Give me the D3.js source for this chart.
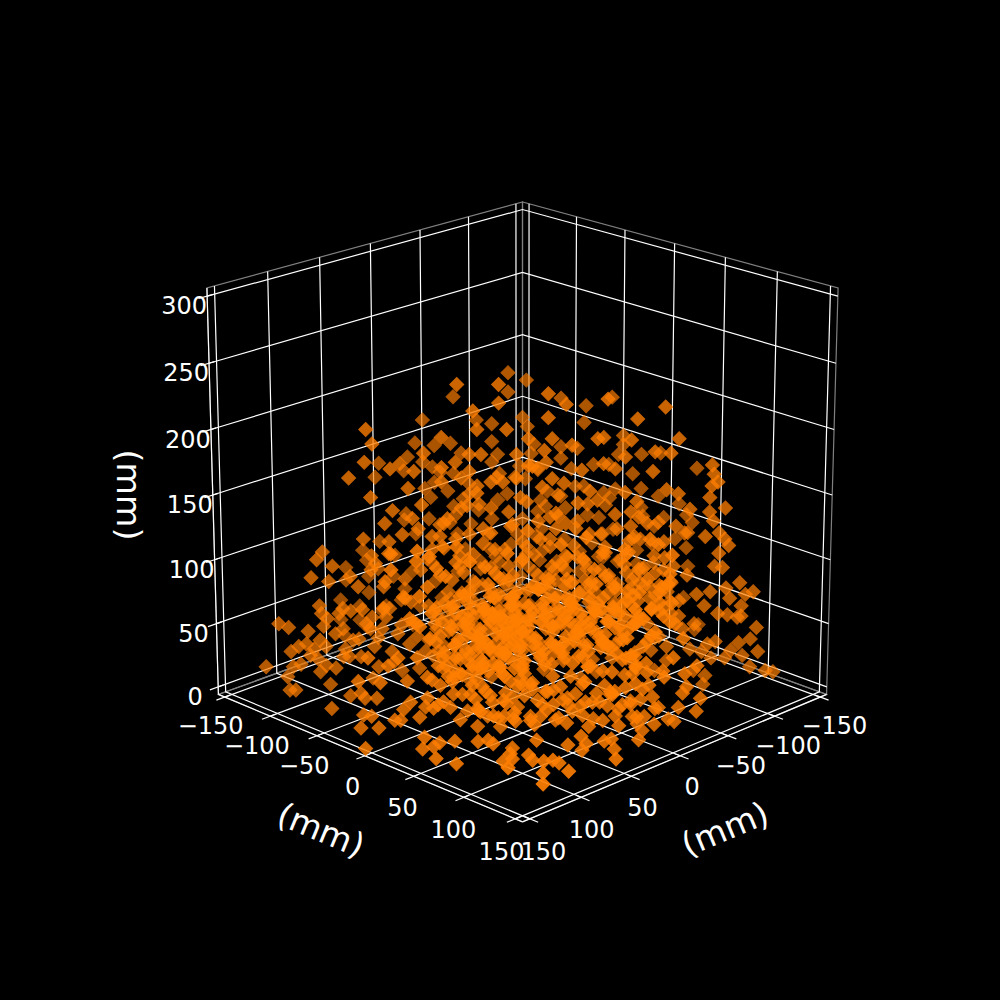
<!doctype html>
<html lang="en">
  <head>
    <meta charset="utf-8">
    <script src="https://cdn.jsdelivr.net/npm/d3@7"></script>
    <style>
      body { margin:0; background:black; font-family:"DejaVu Sans", sans-serif }
      svg { display:block }
      text { fill:white }
    </style>
    <title>3D scatter (mm)</title>
  </head>
  <body>
    <script>
      // x, y, z in mm
      const upperLeft = [[-67,-52,215],[-12,12,234],[-67,-52,200],[-33,33,234],[-96,-24,196],[-12,12,220],[-112,-8,178],[-79,79,200],[-76,76,189],[-116,-4,160],[-41,41,194],[-97,-22,160],[-25,25,214],[-84,-36,178],[-23,23,200],[-76,-44,175],[-8,8,200],[-76,-44,161],[-92,-28,152],[-27,27,181],[-21,21,181],[-73,-47,151],[-76,-44,145],[-80,80,175],[-135,15,144],[-67,67,170],[-120,0,149],[-62,62,174],[-122,2,138],[-55,55,168],[-112,-8,145],[-50,50,182],[-106,-14,158],[-34,34,175],[-107,-13,141],[-41,41,171],[-103,-17,137],[-27,27,168],[-96,-24,136],[-31,31,163],[-88,88,163],[-137,17,133],[-58,58,155],[-106,-14,129],[-41,41,160],[-111,-9,124],[-23,23,157],[-99,-21,122],[-16,16,160],[-72,-48,136],[-10,10,160],[-64,-56,133],[-77,77,148],[-108,-12,117],[-27,27,151],[-91,-29,116],[-66,66,138],[-96,-24,110],[-31,31,140],[-121,1,104],[-56,56,132],[-122,2,99],[-70,70,128],[-95,-25,103],[-42,42,127],[-98,-22,97],[-22,22,143],[-83,-37,107],[-16,16,140],[-73,-47,115],[-7,7,137],[-87,-33,96],[-53,53,124],[-109,-11,100],[-46,46,118],[-116,-4,88],[-42,42,118],[-94,-26,88],[-27,27,120],[-81,81,116],[-135,15,82],[-68,68,114],[8,112,139],[27,92,142],[-40,40,109],[-102,102,106],[-105,105,100],[-144,24,75],[-5,125,137],[-77,77,103],[-127,7,71],[14,106,135],[-75,75,97],[-142,22,67],[-5,125,125],[-97,97,95],[-153,33,61],[7,112,131],[-32,32,103],[34,86,131],[-77,-43,76],[41,78,127],[-72,-48,65],[52,67,137],[-7,7,95],[-107,-12,65],[17,102,126],[-32,32,95]];
      const upperRight = [[-58,-62,209],[13,-13,227],[-40,-80,195],[22,-22,219],[-27,-93,189],[43,-43,223],[-13,-106,196],[72,-72,217],[-60,-60,180],[13,-13,209],[-28,-92,176],[58,-58,208],[-57,-62,173],[3,-3,193],[-54,-66,159],[15,-15,193],[-40,-80,157],[25,-25,188],[-31,-88,156],[38,-38,193],[41,-41,194],[-7,-112,166],[55,-55,192],[-7,-112,159],[79,-79,193],[-55,-64,152],[11,-11,184],[-40,-80,148],[12,-12,175],[-10,-110,151],[52,-52,179],[2,-122,151],[67,-67,183],[12,-132,152],[75,-75,182],[-34,-85,140],[30,-30,169],[-23,-97,143],[41,-41,174],[-15,-105,143],[47,-47,170],[-2,-117,136],[66,-66,168],[31,-151,140],[96,-96,173],[97,-97,166],[99,-99,160],[96,-96,157],[-3,3,181],[-61,-58,142],[5,-5,172],[-52,-68,139],[-3,3,163],[-58,-61,132],[10,-10,156],[-47,-73,122],[21,-21,159],[-32,-87,126],[18,-18,150],[2,-122,124],[73,-73,154],[11,-131,118],[79,-79,151],[95,-95,148],[-11,-108,124],[52,-52,152],[-17,-102,121],[38,-38,146],[-14,-105,117],[58,-58,145],[-16,-103,111],[33,-33,143],[22,-142,112],[95,-95,137],[103,-103,140],[85,-85,139],[26,-146,103],[97,-97,130],[29,-149,97],[55,-55,137],[2,-122,109],[59,-59,133],[3,-123,102],[47,-47,135],[-26,-94,103],[28,-28,130],[-20,-100,101],[-1,1,148],[-50,-69,115],[17,-17,136],[-37,-82,109],[14,-14,133],[-52,-68,106],[69,-69,129],[14,-134,101],[78,-78,126],[9,-129,94],[55,-55,126],[123,-3,148],[57,-57,118],[127,-7,144],[72,-72,114],[84,-84,121],[20,-140,84],[93,-93,118],[100,-100,121],[103,-103,116],[105,-105,111],[26,-146,77],[100,-100,105],[134,-14,136],[67,-67,103],[0,-120,75],[110,9,140],[-12,-107,92],[40,-40,120],[91,28,149],[-23,-96,81],[26,-26,111],[79,41,144],[-49,-70,75],[17,-17,124],[62,57,154],[-62,-57,88],[0,0,114],[60,60,133],[-52,-67,86],[22,-22,103],[90,30,133],[-17,-102,70],[50,-50,100],[117,2,125],[9,-129,65],[77,-77,95],[27,-147,62],[98,-98,95],[102,-102,94],[95,24,125],[15,-15,95],[-51,-69,67]];
      const lowerLeft = [[-108,108,86],[-99,99,83],[-153,33,51],[-84,84,79],[-141,21,54],[-88,88,87],[-141,21,41],[-71,71,79],[-8,128,116],[-60,60,85],[-125,125,50],[-120,120,47],[-104,104,64],[-103,103,58],[-156,36,35],[-94,94,58],[-146,26,30],[-82,82,61],[-92,92,62],[-102,102,48],[-156,36,19],[-92,92,46],[-146,26,19],[-77,77,55],[-134,14,26],[-70,70,55],[-9,129,96],[-124,4,35],[-61,61,71],[4,116,88],[-62,62,49],[-118,-2,15],[-78,78,46],[-104,104,37],[-115,115,32],[-119,119,28],[-111,111,34],[-107,107,30],[-109,109,25],[-101,101,32],[-154,34,6],[-87,87,37],[-142,22,13],[-74,74,39],[-91,91,30],[-83,83,24],[-17,137,58],[-67,67,28],[-2,122,58],[-132,132,16],[-118,118,16],[-121,121,8],[-101,101,17],[-104,104,12],[-96,96,15],[-89,89,24],[-22,142,40],[-77,77,7],[-11,131,39],[-74,74,16],[-7,127,52],[-62,62,13],[2,117,40],[-112,127,2],[-109,124,2],[-99,99,2],[-73,103,2],[-52,112,13],[-50,110,9],[-44,104,9],[-67,127,1],[-30,130,8],[-26,126,7],[-21,141,4],[-12,132,4],[-4,124,10],[-1,121,10],[1,157,0],[4,116,24],[0,119,18],[8,111,12],[36,133,12],[35,134,3],[44,126,8],[41,129,5],[57,142,5],[51,118,9],[67,132,1],[12,107,27],[11,108,20],[15,104,19],[20,99,24],[25,94,30],[24,96,20],[-53,53,15],[12,107,43],[-41,41,15],[25,94,43],[-27,27,5],[7,112,58],[-46,46,25],[20,99,58],[32,87,17],[37,82,19],[36,83,26],[37,82,5],[42,77,13],[63,107,9],[68,102,10],[70,99,7],[49,71,5],[45,74,13],[56,63,9],[80,90,4],[90,109,3],[95,105,5],[113,127,11],[41,78,32],[50,69,25],[57,62,20],[-31,31,25],[39,81,50],[-12,12,15],[54,66,40],[-57,57,67],[9,111,105],[-102,-17,37],[-54,54,40],[14,106,73]];
      const lowerRight = [[111,-111,82],[118,-118,75],[114,-114,73],[104,-104,78],[112,-112,64],[105,-105,57],[110,-110,55],[112,-112,56],[120,-120,47],[117,-117,38],[111,-111,35],[121,-121,28],[107,-107,29],[104,-104,23],[113,-113,25],[117,-117,16],[125,-125,13],[129,-129,12],[99,-99,36],[95,-95,34],[33,-153,15],[88,-88,50],[31,-151,11],[80,-80,56],[18,-138,34],[93,-93,64],[25,-145,37],[89,-89,73],[96,-96,75],[18,-138,50],[116,4,95],[65,-65,79],[-2,-118,45],[70,-70,80],[124,-4,95],[70,-70,60],[0,-120,22],[74,-74,32],[140,-20,73],[68,-68,39],[97,-97,23],[92,-92,28],[147,-27,52],[74,-74,21],[141,-21,46],[88,-88,13],[94,-94,9],[93,-93,2],[142,-22,36],[140,-20,31],[149,-29,27],[68,-68,13],[122,-2,47],[58,-58,24],[111,8,35],[38,-38,12],[104,16,32],[97,23,31],[119,1,26],[114,6,25],[128,-8,20],[138,-18,20],[147,-27,17],[133,-13,11],[136,-16,9],[82,37,27],[75,44,22],[71,48,32],[91,28,24],[85,35,17],[89,31,21],[102,17,21],[108,12,19],[106,13,13],[95,24,11],[115,5,13],[121,-1,13],[126,-6,7],[117,2,7],[120,0,2],[142,27,10],[129,41,11],[125,44,9],[130,39,3],[146,54,5],[114,56,13],[116,53,7],[114,55,2],[107,62,6],[92,78,10],[103,97,8],[105,95,4],[110,89,3],[115,85,4],[118,82,2],[142,97,8],[130,110,7],[140,120,5],[55,64,11],[64,56,13],[69,51,13],[76,43,10],[57,62,36],[65,55,39],[72,47,32],[94,106,9]];
      const centre = [[22,98,120],[-30,30,90],[-82,-38,60],[46,73,122],[-5,5,88],[-57,-63,62],[73,47,118],[22,-22,92],[-30,-90,58],[101,19,120],[53,-53,90],[3,-123,60],[133,-13,122],[84,-84,88],[13,107,112],[-36,36,84],[-86,-34,50],[43,77,114],[-8,8,80],[-61,-59,54],[68,52,110],[17,-17,84],[-33,-86,50],[96,23,114],[46,-46,80],[-1,-119,54],[129,-9,112],[-38,38,75],[29,91,105],[-81,-39,47],[-12,12,73],[56,63,107],[-56,-64,43],[13,-13,77],[81,38,103],[-26,-94,46],[44,-44,74],[115,5,106],[74,-74,75],[25,95,97],[-26,26,69],[41,78,95],[-71,-49,38],[55,65,98],[1,-1,66],[69,51,96],[-43,-76,36],[85,35,98],[34,-34,67],[105,15,97],[59,-59,68],[-45,45,60],[30,90,90],[-82,-38,31],[45,75,92],[-8,8,58],[58,62,88],[-56,-64,31],[71,49,90],[19,-19,60],[89,31,92],[-21,-99,29],[111,9,90],[9,111,82],[-37,37,54],[33,87,84],[-79,-41,22],[48,72,80],[-6,6,52],[60,60,84],[-53,-67,21],[75,45,82],[24,-24,52],[94,26,80],[-16,-104,23],[116,3,84],[19,101,75],[-30,30,46],[38,82,74],[-75,-45,15],[51,68,76],[-3,3,44],[64,56,75],[-48,-71,16],[81,38,74],[31,-31,45],[101,19,76],[-8,-111,15],[124,-4,75],[-48,48,37],[26,93,68],[-23,23,38],[44,76,66],[-68,-52,8],[59,61,68],[8,-8,36],[76,43,67],[-32,-88,7],[99,21,66],[50,-50,38],[120,0,67],[34,86,60],[-17,17,30],[51,68,61],[0,0,29],[69,51,60],[19,-19,31],[90,30,59],[44,-44,30],[114,6,60],[66,-66,29],[22,98,52],[-22,22,23],[49,71,51],[-1,1,22],[71,49,53],[21,-21,21],[94,26,52],[46,-46,23],[116,3,51],[30,90,45],[-21,21,15],[61,59,46],[11,-11,14],[84,36,44],[34,-34,16],[111,9,45],[19,101,37],[-16,16,8],[64,56,38],[79,41,36],[30,-30,7],[101,19,37],[116,3,38],[34,86,30],[51,68,31],[61,59,29],[86,33,30],[104,16,30]];
      // the solid middle of the cloud, many points on top of each other
      const coreNear = [[20,105,98],[27,98,84],[35,88,110],[40,80,72],[44,82,96],[48,70,118],[52,72,63],[55,64,104],[58,66,88],[62,60,74],[63,52,112],[66,56,94],[69,51,58],[70,46,102],[74,44,82],[77,48,70],[80,38,112],[83,41,90],[86,30,76],[89,33,60],[92,26,104],[95,28,86],[98,18,70],[101,22,96],[104,12,80],[108,14,62],[110,6,108],[113,9,74],[118,2,90],[121,-3,70],[125,2,56],[128,-8,100],[24,92,66],[31,84,92],[37,92,78],[42,74,104],[46,66,86],[49,78,56],[53,60,78],[57,70,68],[60,54,96],[64,64,52],[67,48,84],[71,58,76],[73,52,64],[76,40,94],[79,50,56],[82,34,100],[85,44,72],[88,36,84],[91,30,68],[94,22,92],[97,32,54],[100,14,84],[103,24,72],[106,8,96],[109,20,50],[112,2,82],[115,12,60],[119,6,52],[38,68,88],[43,62,70],[47,58,100],[51,52,62],[54,48,82],[59,44,106],[61,50,66],[65,42,92],[68,38,74],[72,36,60],[75,30,86],[78,26,66],[81,22,78],[84,18,58],[87,12,94],[90,16,74],[93,8,62],[96,4,88],[99,-2,70],[102,2,52],[30,70,60],[34,62,82],[36,76,50],[41,56,66],[45,50,90],[50,44,74],[56,38,58],[70,28,52],[28,78,44],[33,100,52],[40,90,40],[52,84,34],[60,76,28],[68,68,42],[75,60,30],[83,52,38],[90,44,26],[98,36,44],[105,28,28],[112,20,36],[120,12,26],[128,2,40],[48,92,24],[58,82,18],[66,74,22],[74,66,16],[82,58,24],[92,48,14],[100,40,20],[110,30,16],[118,22,12],[126,12,18],[134,2,24],[135,-6,46],[138,-12,60],[131,-16,84]];
      const coreMiddle = [[-42,42,88],[-38,38,62],[-34,34,98],[-31,31,74],[-28,28,54],[-25,25,104],[-24,24,82],[-20,20,64],[-18,18,46],[-16,16,94],[-14,14,70],[-11,11,52],[-9,9,108],[-7,7,84],[-5,5,64],[-3,3,40],[-1,1,98],[2,-2,76],[4,-4,56],[6,-6,104],[8,-8,88],[10,-10,66],[12,-12,46],[14,-14,110],[16,-16,92],[18,-18,72],[20,-20,50],[23,-23,102],[25,-25,82],[27,-27,62],[29,-29,40],[32,-32,98],[35,-35,78],[38,-38,58],[41,-41,106],[44,-44,88],[47,-47,66],[50,-50,48],[53,-53,104],[56,-56,84],[59,-59,52],[62,-62,94],[65,-65,70],[68,-68,90],[72,-72,62],[76,-76,82],[80,-80,68],[-60,60,70],[-56,56,52],[-52,52,92],[-48,48,64],[-44,44,46],[-64,64,42],[-68,68,62],[-72,72,46],[-76,76,32],[-80,80,50],[-84,84,38],[-88,88,60],[-92,92,24],[-96,96,42],[-100,100,54],[-105,105,22],[-110,110,44],[-114,114,18],[-66,66,20],[-58,58,34],[-50,50,28],[-40,40,32],[-32,32,22],[-22,22,36],[-12,12,28],[-4,4,20],[6,-6,30],[14,-14,24],[24,-24,34],[36,-36,22],[48,-48,34],[58,-58,18],[70,-70,40],[82,-82,46],[86,-86,30],[100,-100,58],[106,-106,70],[-10,30,118],[-6,26,126],[-30,46,136],[-20,36,146],[4,14,132],[12,8,150],[20,2,122],[30,-6,140],[38,-16,130],[44,-24,158],[54,-30,112],[64,-44,120],[74,-52,134],[84,-60,108],[92,-72,126],[-44,58,146],[-56,66,122],[-62,74,108],[-70,84,96],[-4,22,168],[-14,32,156],[10,4,176],[22,-8,166],[36,-20,148]];
      const coreFar = [[-74,-46,70],[-70,-50,52],[-66,-54,80],[-62,-58,44],[-58,-62,72],[-54,-66,58],[-50,-70,92],[-46,-74,48],[-42,-78,66],[-38,-82,84],[-34,-86,34],[-30,-90,74],[-26,-94,60],[-22,-98,42],[-18,-102,88],[-14,-106,52],[-10,-110,66],[-6,-114,36],[-2,-118,84],[4,-124,46],[8,-128,80],[-78,-42,88],[-82,-38,66],[-86,-34,42],[-90,-30,76],[-94,-26,58],[-98,-22,36],[-102,-18,78],[-106,-14,50],[-110,-10,68],[-114,-6,30],[-118,-2,58],[-122,2,44],[-128,8,54],[-132,12,30],[-136,16,60],[-72,-48,28],[-64,-56,24],[-56,-64,18],[-44,-76,20],[-36,-84,14],[-24,-96,18],[-12,-108,28],[-94,-26,18],[-84,-36,12],[-104,-16,22],[-60,-60,100],[-48,-72,110],[-76,-44,100],[-40,-80,118],[-88,-32,128],[-68,-52,120],[-28,-92,126],[-52,-68,140]];
      const coreLeft = [[15,105,92],[17,103,70],[18,102,52],[20,100,86],[21,99,62],[23,97,44],[25,95,80],[26,94,98],[27,93,58],[28,92,72],[29,91,46],[31,89,84],[32,88,64],[33,87,100],[34,86,54],[35,85,76],[36,84,90],[37,83,42],[38,82,66],[39,81,80],[40,80,56],[41,79,94],[42,78,70],[43,77,48],[44,76,86],[45,75,62],[46,74,104],[47,73,76],[48,72,52],[49,71,90],[50,70,66],[51,69,44],[52,68,82],[53,67,58],[54,66,98],[55,65,72],[56,64,50],[57,63,86],[58,62,64],[59,61,42],[60,60,78],[61,59,56],[-45,45,50],[-43,43,28],[-40,40,66],[-38,38,44],[-36,36,22],[-34,34,58],[-32,32,36],[-30,30,72],[-28,28,48],[-26,26,30],[-24,24,62],[-22,22,42],[-20,20,18],[-18,18,54],[-16,16,76],[-14,14,34],[-12,12,60],[-10,10,24],[-8,8,46],[-6,6,70],[-4,4,32],[-2,2,56],[0,0,44],[-46,62,54]];
      const coreRight = [[70,50,112],[72,48,90],[74,46,70],[76,44,104],[78,42,84],[80,40,62],[82,38,118],[84,36,96],[86,34,76],[88,32,108],[90,30,88],[92,28,68],[94,26,116],[96,24,94],[98,22,74],[100,20,104],[102,18,86],[104,16,66],[106,14,112],[108,12,92],[110,10,72],[112,8,102],[114,6,82],[116,4,62],[118,2,108],[120,0,88],[122,-2,118],[124,-4,96],[126,-6,78],[128,-8,108],[130,-10,90],[132,-12,114],[134,-14,100],[136,-16,84],[12,-12,86],[16,-16,60],[20,-20,96],[24,-24,70],[28,-28,44],[32,-32,84],[36,-36,62],[40,-40,92],[44,-44,52],[48,-48,76],[52,-52,96],[56,-56,64],[60,-60,82],[64,-64,50],[68,-68,72],[72,-72,92],[76,-76,58],[-40,-80,64],[-30,-90,40],[-20,-100,70],[-10,-110,48],[0,-120,64],[-36,-84,30]];
      const coreLow = [[25,95,40],[30,90,30],[35,85,52],[40,80,36],[45,75,24],[50,70,46],[55,65,28],[60,60,52],[65,55,34],[70,50,22],[75,45,44],[80,40,26],[85,35,54],[90,30,38],[95,25,24],[100,20,48],[105,15,30],[110,10,22],[115,5,46],[120,0,34],[125,-5,28],[130,-10,48],[20,110,44],[28,112,28],[38,100,16],[48,90,22],[62,80,20],[78,66,14],[88,52,18],[104,38,12]];
      const coreHigh = [[-46,46,108],[-40,40,128],[-34,34,116],[-28,28,100],[-20,20,124],[-14,14,108],[-6,6,126],[2,-2,110],[8,-8,130],[14,-14,116],[22,-22,128],[28,-28,102],[34,-34,120],[42,-42,110],[48,-48,124],[54,-54,106],[60,-60,116]];

      const xyTicks = [-150,-100,-50,0,50,100,150];
      const zTicks = [0,50,100,150,200,250,300];
      const axisLabel = "(mm)";

      const w = 1000, h = 1000;
      const limXY = 157, zMin = -6, zMax = 306;

      // same view as a matplotlib 3d axes: elev 20, azim 45, camera distance 10
      const elev = 20*Math.PI/180, azim = 45*Math.PI/180, dist = 10;
      const side = 1.1;

      const boxX = d3.scaleLinear().domain([-limXY,limXY]).range([-side/2,side/2]);
      const boxY = d3.scaleLinear().domain([-limXY,limXY]).range([-side/2,side/2]);
      const boxZ = d3.scaleLinear().domain([zMin,zMax]).range([-side*0.4935,side*0.4935]);

      const screenX = d3.scaleLinear().domain([0,1]).range([522.5,522.5+3982]);
      const screenY = d3.scaleLinear().domain([0,1]).range([495,495-3982]);

      const viewW = [Math.cos(elev)*Math.cos(azim),Math.cos(elev)*Math.sin(azim),Math.sin(elev)];
      const viewU = [-Math.sin(azim),Math.cos(azim),0];
      const viewV = [-Math.sin(elev)*Math.cos(azim),-Math.sin(elev)*Math.sin(azim),Math.cos(elev)];

      function project(x,y,z) {
        let p = [boxX(x),boxY(y),boxZ(z)];
        let dot = (a)=>a[0]*p[0]+a[1]*p[1]+a[2]*p[2];
        let d = dist-dot(viewW);
        return {sx:screenX(-dot(viewU)/d), sy:screenY(dot(viewV)/d), d:d};
      }

      function pathOf(pts) {
        return d3.line().x(d=>project(d[0],d[1],d[2]).sx).y(d=>project(d[0],d[1],d[2]).sy)(pts);
      }

      let svg = d3.select("body").append("svg")
        .attr("width",w).attr("height",h);
      svg.append("rect").attr("width",w).attr("height",h).attr("fill","black");

      // pane outlines
      let L = limXY;
      let panes = [
        [[-L,-L,zMin],[L,-L,zMin],[L,L,zMin],[-L,L,zMin],[-L,-L,zMin]],
        [[-L,-L,zMin],[L,-L,zMin],[L,-L,zMax],[-L,-L,zMax],[-L,-L,zMin]],
        [[-L,-L,zMin],[-L,L,zMin],[-L,L,zMax],[-L,-L,zMax],[-L,-L,zMin]]
      ];
      svg.append("g").selectAll("path").data(panes).enter().append("path")
        .attr("d",pathOf).attr("fill","none").attr("stroke","#808080").attr("stroke-width",1.2);

      // grid
      let grid = svg.append("g").attr("fill","none").attr("stroke","white").attr("stroke-width",1.2);
      xyTicks.forEach(function(t) {
        grid.append("path").attr("d",pathOf([[t,L,zMin],[t,-L,zMin],[t,-L,zMax]]));
        grid.append("path").attr("d",pathOf([[L,t,zMin],[-L,t,zMin],[-L,t,zMax]]));
      });
      zTicks.forEach(function(t) {
        grid.append("path").attr("d",pathOf([[-L,L,t],[-L,-L,t],[L,-L,t]]));
      });

      // axis lines and tick marks
      let axes = svg.append("g").attr("fill","none").attr("stroke","white").attr("stroke-width",1.2);
      axes.append("path").attr("d",pathOf([[-L,L,zMin],[L,L,zMin]]));
      axes.append("path").attr("d",pathOf([[L,L,zMin],[L,-L,zMin]]));
      axes.append("path").attr("d",pathOf([[-L,L,zMin],[-L,L,zMax]]));
      xyTicks.forEach(function(t) {
        axes.append("path").attr("d",pathOf([[t,L-5,zMin],[t,L+8,zMin]]));
        axes.append("path").attr("d",pathOf([[L-5,t,zMin],[L+8,t,zMin]]));
      });
      zTicks.forEach(function(t) {
        axes.append("path").attr("d",pathOf([[-L,L-5,t],[-L,L+8,t]]));
      });

      // points, far ones first
      let points = upperLeft.concat(upperRight,lowerLeft,lowerRight,centre,coreNear,coreMiddle,coreFar,coreLeft,coreRight,coreLow,coreHigh)
        .map(function(d) {
          let p = project(d[0],d[1],d[2]);
          return {sx:p.sx, sy:p.sy, depth:p.d};
        })
        .sort((a,b)=>b.depth-a.depth);

      let shade = d3.scaleLinear()
        .domain(d3.extent(points,d=>d.depth))
        .range([0.92,0.6]);

      let diamond = d3.symbol().type(d3.symbolSquare).size(98);

      svg.append("g").selectAll("path").data(points).enter().append("path")
        .attr("d",diamond)
        .attr("transform",d=>"translate("+d.sx+","+d.sy+") rotate(45)")
        .attr("fill","#ff7f00")
        .attr("stroke","#ff7f00")
        .attr("stroke-width",1)
        .attr("opacity",d=>shade(d.depth));

      // tick labels, the two 150s sit side by side at the front corner
      let fmt = (t)=>String(t).replace("-","\u2212");
      let labels = svg.append("g").attr("font-size","24px")
        .attr("text-anchor","middle").attr("dominant-baseline","central");
      xyTicks.forEach(function(t) {
        let nudge = t==150 ? 4 : 0;
        let a = project(t+33,L+42,zMin);
        labels.append("text").attr("x",a.sx-nudge).attr("y",a.sy).text(fmt(t));
        let b = project(L+42,t+33,zMin);
        labels.append("text").attr("x",b.sx+nudge).attr("y",b.sy).text(fmt(t));
      });
      zTicks.forEach(function(t) {
        let a = project(-L,L,t);
        labels.append("text").attr("x",a.sx-23).attr("y",a.sy+10).text(fmt(t));
      });

      // axis labels
      let names = svg.append("g").attr("font-size","33.3px").attr("text-anchor","middle")
        .attr("dominant-baseline","central");
      names.append("text").attr("transform","translate(321,830) rotate(22.6)").text(axisLabel);
      names.append("text").attr("transform","translate(725,829) rotate(-22.6)").text(axisLabel);
      names.append("text").attr("transform","translate(128,495) rotate(90)").text(axisLabel);
    </script>
  </body>
</html>
